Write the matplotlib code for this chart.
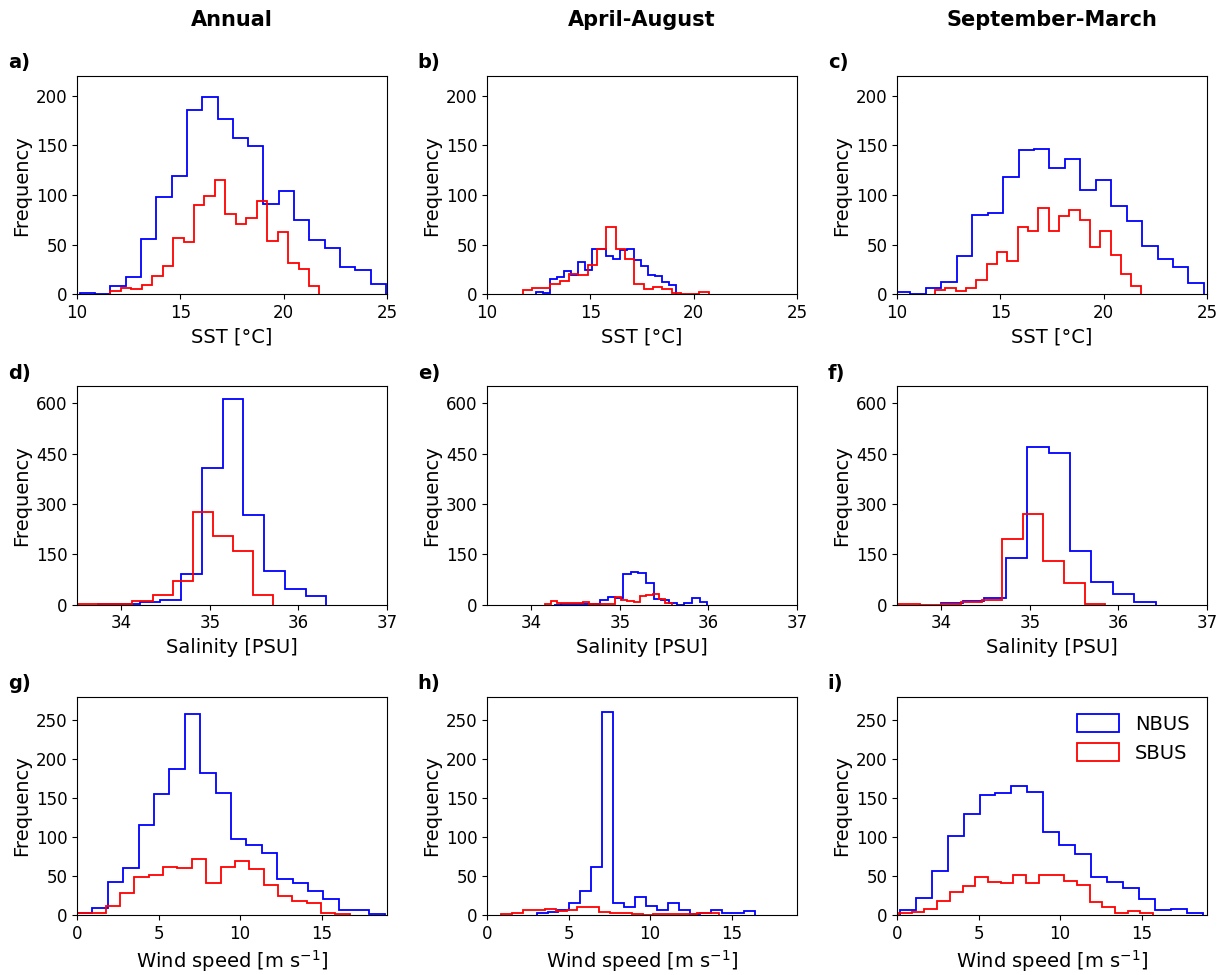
import numpy as np
import matplotlib
matplotlib.use("Agg")
import matplotlib.pyplot as plt

# histogram counts, (min, max) of each sample gives the bins
# row 1: SST
sst_ann_n_rng = (10.13, 24.95)
sst_ann_n = [1, 0, 8, 17, 56, 98, 119, 186, 199, 177, 158, 149, 91, 104, 75, 55, 47, 28, 25, 10]
sst_ann_s_rng = (11.62, 21.73)
sst_ann_s = [3, 6, 5, 9, 18, 29, 57, 53, 90, 99, 115, 81, 71, 77, 94, 54, 63, 32, 26, 8]

sst_aa_n_rng = (12.37, 19.14)
sst_aa_n = [2, 1, 15, 17, 23, 19, 33, 25, 46, 46, 39, 36, 45, 46, 35, 29, 19, 18, 12, 9]
sst_aa_s_rng = (11.72, 20.73)
sst_aa_s = [4, 6, 6, 10, 13, 20, 19, 30, 46, 68, 46, 36, 10, 5, 7, 5, 1, 0, 0, 2]

sst_sm_n_rng = (9.9, 24.85)
sst_sm_n = [2, 0, 6, 12, 39, 80, 82, 118, 145, 146, 127, 136, 105, 115, 89, 74, 49, 36, 28, 11]
sst_sm_s_rng = (11.84, 21.83)
sst_sm_s = [4, 6, 3, 6, 14, 31, 43, 34, 68, 64, 87, 64, 79, 85, 75, 48, 64, 40, 20, 8]

# row 2: salinity
sal_ann_n_rng = (33.74, 36.315)
sal_ann_n = [3, 3, 7, 14, 91, 407, 613, 266, 101, 46, 25]
sal_ann_s_rng = (33.447, 35.711)
sal_ann_s = [1, 1, 3, 10, 30, 70, 276, 204, 159, 28]

sal_aa_n_rng = (34.253, 35.989)
sal_aa_n = [0, 1, 1, 1, 2, 3, 14, 22, 21, 91, 98, 93, 65, 18, 15, 4, 0, 5, 21, 8]
sal_aa_s_rng = (34.15, 35.587)
sal_aa_s = [2, 10, 4, 6, 5, 6, 7, 3, 2, 2, 3, 22, 13, 12, 9, 26, 30, 33, 18, 5]

sal_sm_n_rng = (34.002, 36.421)
sal_sm_n = [6, 11, 20, 140, 469, 452, 161, 67, 32, 9]
sal_sm_s_rng = (33.294, 35.851)
sal_sm_s = [2, 2, 0, 2, 8, 15, 195, 271, 129, 64, 2]

# row 3: wind speed
wnd_ann_n_rng = (0.0, 18.87)
wnd_ann_n = [2, 9, 42, 60, 115, 155, 187, 258, 182, 157, 98, 90, 79, 46, 41, 31, 20, 7, 7, 1]
wnd_ann_s_rng = (0.0, 16.72)
wnd_ann_s = [2, 3, 11, 28, 49, 52, 62, 60, 72, 41, 62, 69, 59, 39, 25, 18, 16, 2, 1]

wnd_aa_n_rng = (3.04, 16.43)
wnd_aa_n = [2, 4, 6, 15, 31, 62, 261, 16, 10, 23, 12, 6, 16, 7, 1, 3, 7, 3, 3, 5]
wnd_aa_s_rng = (0.88, 14.2)
wnd_aa_s = [1, 3, 6, 6, 8, 5, 6, 10, 10, 4, 3, 2, 1, 0, 1, 1, 1, 1, 2, 2]

wnd_sm_n_rng = (0.16, 18.77)
wnd_sm_n = [6, 22, 56, 101, 129, 154, 157, 166, 158, 107, 90, 78, 49, 42, 35, 20, 6, 8, 3]
wnd_sm_s_rng = (0.12, 15.7)
wnd_sm_s = [2, 4, 8, 18, 29, 37, 49, 42, 41, 52, 41, 51, 51, 44, 38, 17, 10, 2, 5, 2]

col_titles = ["Annual", "April-August", "September-March"]
panel_labels = ["a)", "b)", "c)", "d)", "e)", "f)", "g)", "h)", "i)"]
xlabels = ["SST [°C]", "Salinity [PSU]", "Wind speed [m s$^{-1}$]"]

data = [
    [(sst_ann_n_rng, sst_ann_n, sst_ann_s_rng, sst_ann_s),
     (sst_aa_n_rng, sst_aa_n, sst_aa_s_rng, sst_aa_s),
     (sst_sm_n_rng, sst_sm_n, sst_sm_s_rng, sst_sm_s)],
    [(sal_ann_n_rng, sal_ann_n, sal_ann_s_rng, sal_ann_s),
     (sal_aa_n_rng, sal_aa_n, sal_aa_s_rng, sal_aa_s),
     (sal_sm_n_rng, sal_sm_n, sal_sm_s_rng, sal_sm_s)],
    [(wnd_ann_n_rng, wnd_ann_n, wnd_ann_s_rng, wnd_ann_s),
     (wnd_aa_n_rng, wnd_aa_n, wnd_aa_s_rng, wnd_aa_s),
     (wnd_sm_n_rng, wnd_sm_n, wnd_sm_s_rng, wnd_sm_s)],
]

xlims = [(10, 25), (33.5, 37), (0, 19)]
xticks = [[10, 15, 20, 25], [34, 35, 36, 37], [0, 5, 10, 15]]
ylims = [(0, 220), (0, 650), (0, 280)]
yticks = [np.arange(0, 201, 50), np.arange(0, 601, 150), np.arange(0, 251, 50)]

plt.rcParams["font.size"] = 12

fig, axs = plt.subplots(3, 3, figsize=(12.26, 9.75), dpi=100)
plt.subplots_adjust(left=0.0628, right=0.9845, top=0.922, bottom=0.0615,
                    wspace=0.3226, hspace=0.422)


def step_hist(ax, rng, counts, color, label):
    edges = np.linspace(rng[0], rng[1], len(counts) + 1)
    ax.hist(edges[:-1], bins=edges, weights=counts, histtype="step",
            color=color, lw=1.3, label=label)


for r in range(3):
    for c in range(3):
        ax = axs[r, c]
        nrng, ncnt, srng, scnt = data[r][c]
        step_hist(ax, nrng, ncnt, "b", "NBUS")
        step_hist(ax, srng, scnt, "r", "SBUS")
        ax.set_xlim(xlims[r])
        ax.set_ylim(ylims[r])
        ax.set_xticks(xticks[r])
        ax.set_yticks(yticks[r])
        ax.set_xlabel(xlabels[r], fontsize=14)
        ax.set_ylabel("Frequency", fontsize=14, labelpad=3)
        ax.tick_params(labelsize=12)
        ax.text(-0.223, 1.06, panel_labels[3 * r + c], transform=ax.transAxes,
                fontsize=14, fontweight="bold", ha="left", va="center")
        if r == 0:
            ax.text(0.5, 1.257, col_titles[c], transform=ax.transAxes,
                    fontsize=15, fontweight="bold", ha="center", va="center")

axs[2, 2].legend(loc="upper right", frameon=False, fontsize=14,
                 handlelength=2.2, handleheight=1.0)

plt.savefig("out.png", dpi=100)
